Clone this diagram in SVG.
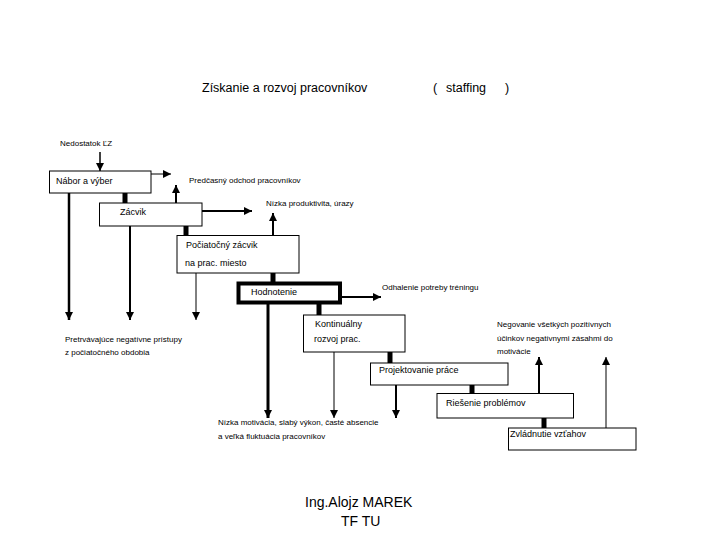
<svg xmlns="http://www.w3.org/2000/svg" width="720" height="540" viewBox="0 0 720 540">
<style>
text{font-family:"Liberation Sans",Arial,sans-serif;fill:#000}
.t{font-size:12.5px}
.s{font-size:8px}
.b{font-size:9px}
.box{fill:#fff;stroke:#000;stroke-width:1}
.bold{fill:#fff;stroke:#000;stroke-width:4}
.ln{fill:none;stroke:#000}
.k{stroke:#000;stroke-width:5}
</style>
<defs>
<marker id="ah" markerUnits="userSpaceOnUse" markerWidth="10" markerHeight="10" refX="8" refY="4" orient="auto">
<path d="M0,0 L8,4 L0,8 Z" fill="#000"/>
</marker>
</defs>
<rect width="720" height="540" fill="#fff"/>
<g id="title">
<text class="t" x="202" y="92">Získanie a rozvoj pracovníkov</text>
<text class="t" x="433" y="92">(</text>
<text class="t" x="446" y="92">staffing</text>
<text class="t" x="505" y="92">)</text>
</g>
<g id="connectors">
<line class="ln" x1="100" y1="152" x2="100" y2="171" stroke-width="1.5" marker-end="url(#ah)"/>
<line class="ln" x1="151" y1="174" x2="171" y2="174" stroke-width="1" marker-end="url(#ah)"/>
<line class="ln" x1="176" y1="203" x2="176" y2="185" stroke-width="2" marker-end="url(#ah)"/>
<line class="ln" x1="202" y1="211" x2="252" y2="211" stroke-width="2" marker-end="url(#ah)"/>
<line class="ln" x1="273" y1="235" x2="273" y2="213" stroke-width="2" marker-end="url(#ah)"/>
<line class="ln" x1="341" y1="297" x2="381" y2="297" stroke-width="2" marker-end="url(#ah)"/>
<line class="ln" x1="69" y1="193" x2="69" y2="320" stroke-width="2.5" marker-end="url(#ah)"/>
<line class="ln" x1="130" y1="226" x2="130" y2="320" stroke-width="2" marker-end="url(#ah)"/>
<line class="ln" x1="196" y1="273" x2="196" y2="320" stroke-width="1" marker-end="url(#ah)"/>
<line class="ln" x1="268" y1="304" x2="268" y2="418" stroke-width="3" marker-end="url(#ah)"/>
<line class="ln" x1="334" y1="352" x2="334" y2="418" stroke-width="1" marker-end="url(#ah)"/>
<line class="ln" x1="396" y1="385" x2="396" y2="418" stroke-width="2" marker-end="url(#ah)"/>
<line class="ln" x1="539" y1="393" x2="539" y2="357" stroke-width="2" marker-end="url(#ah)"/>
<line class="ln" x1="606" y1="428" x2="606" y2="357" stroke-width="1" marker-end="url(#ah)"/>
<line class="k" x1="125" y1="193" x2="125" y2="203"/>
<line class="k" x1="186" y1="226" x2="186" y2="235"/>
<line class="k" x1="273" y1="273" x2="273" y2="282"/>
<line class="k" x1="319" y1="304" x2="319" y2="315"/>
<line class="k" x1="390" y1="352" x2="390" y2="363"/>
<line class="k" x1="472" y1="385" x2="472" y2="393"/>
<line class="k" x1="544" y1="418" x2="544" y2="428"/>
</g>
<g id="nabor">
<rect class="box" x="49.5" y="171" width="101.5" height="22"/>
<text class="b" x="56" y="184">Nábor a výber</text>
</g>
<g id="zacvik">
<rect class="box" x="99.5" y="203" width="102.5" height="23"/>
<text class="b" x="120" y="215">Zácvik</text>
</g>
<g id="pociatocny">
<rect class="box" x="177" y="235.5" width="122" height="37.5"/>
<text class="b" x="186" y="248">Počiatočný zácvik</text>
<text class="b" x="185" y="266">na prac. miesto</text>
</g>
<g id="hodnotenie">
<rect class="bold" x="238.5" y="283.5" width="101.5" height="19"/>
<text class="b" x="251" y="295">Hodnotenie</text>
</g>
<g id="kontinualny">
<rect class="box" x="303.5" y="315" width="101.5" height="37"/>
<text class="b" x="315" y="327">Kontinuálny</text>
<text class="b" x="314" y="342">rozvoj prac.</text>
</g>
<g id="projektovanie">
<rect class="box" x="370.5" y="363" width="137.5" height="22"/>
<text class="b" x="379" y="373">Projektovanie práce</text>
</g>
<g id="riesenie">
<rect class="box" x="437" y="393.5" width="136.5" height="24.5"/>
<text class="b" x="446" y="406">Riešenie problémov</text>
</g>
<g id="zvladnutie">
<rect class="box" x="508.5" y="428" width="127.5" height="22"/>
<text class="b" x="510" y="437">Zvládnutie vzťahov</text>
</g>
<g id="labels">
<text class="s" x="60" y="146">Nedostatok ĽZ</text>
<text class="s" x="189" y="183">Predčasný odchod pracovníkov</text>
<text class="s" x="266" y="206">Nízka produktivita, úrazy</text>
<text class="s" x="382" y="290">Odhalenie potreby tréningu</text>
<text class="s" x="65" y="342">Pretrvávajúce negatívne prístupy</text>
<text class="s" x="65" y="355">z počiatočného obdobia</text>
<text class="s" x="497" y="327">Negovanie všetkých pozitívnych</text>
<text class="s" x="497" y="341">účinkov negatívnymi zásahmi do</text>
<text class="s" x="497" y="354">motivácie</text>
<text class="s" x="218" y="424.5">Nízka motivácia, slabý výkon, časté absencie</text>
<text class="s" x="218" y="438.5">a veľká fluktuácia pracovníkov</text>
</g>
<g id="author">
<text x="305" y="507" style="font-size:14px">Ing.Alojz MAREK</text>
<text x="341" y="526" style="font-size:14px">TF TU</text>
</g>
</svg>
